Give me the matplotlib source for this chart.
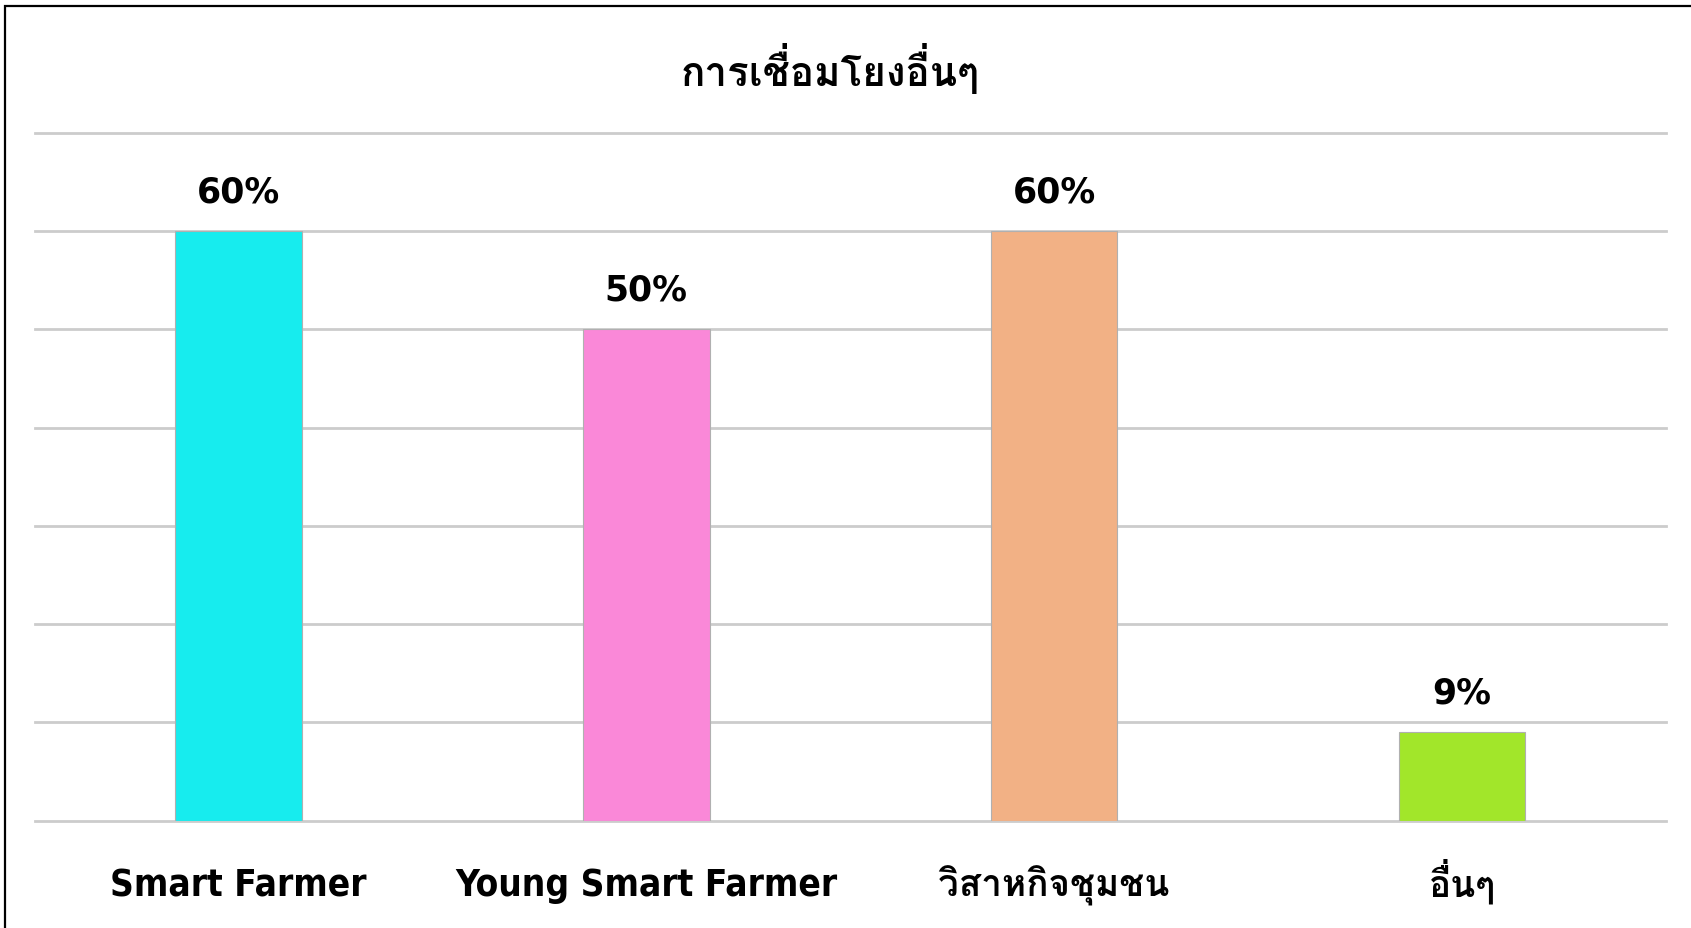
import matplotlib
matplotlib.use("Agg")
import matplotlib.pyplot as plt
from matplotlib.patches import Rectangle

categories = ["Smart Farmer", "Young Smart Farmer", "วิสาหกิจชุมชน", "อื่นๆ"]
values = [0.60, 0.50, 0.60, 0.09]
labels = ["60%", "50%", "60%", "9%"]
colors = ["#17ECEE", "#FA88D8", "#F2B185", "#A2E62A"]
title = "การเชื่อมโยงอื่นๆ"

W, H = 1691, 929
fig = plt.figure(figsize=(W / 100, H / 100), dpi=100)
fig.patch.set_facecolor("white")

# outer frame (left and top visible)
fig.patches.append(Rectangle((5 / W, -0.1), 1.2, 1 - 7 / H + 0.1, transform=fig.transFigure,
                             fill=False, edgecolor="black", linewidth=1.6, zorder=10))

ax = fig.add_axes([34.5 / W, 1 - 821.7 / H, (1666 - 34.5) / W, (821.7 - 133.7) / H])
x = list(range(len(categories)))
ax.bar(x, values, width=0.31, color=colors, edgecolor="#b0b0b0", linewidth=0.8, zorder=3)
ax.set_xlim(-0.5, 3.5)
ax.set_ylim(0, 0.7)
ax.set_yticks([i / 10 for i in range(8)])
ax.yaxis.grid(True, color="#cccccc", linewidth=2.0, zorder=0)
for gl in ax.get_ygridlines():
    gl.set_clip_on(False)
ax.set_axisbelow(True)
for s in ax.spines.values():
    s.set_visible(False)
ax.tick_params(axis="y", left=False, labelleft=False)
ax.tick_params(axis="x", bottom=False, pad=50)
ax.set_xticks(x)
ax.set_xticklabels(categories)
for t in ax.get_xticklabels():
    t.set_fontsize(26.5)
    t.set_fontweight("bold")
    t.set_fontstretch("condensed")
    t.set_verticalalignment("baseline")
    t.set_family(["DejaVu Sans", "Loma"])

for xi, v, lab in zip(x, values, labels):
    ax.annotate(lab, (xi, v), xytext=(0, 16.5), textcoords="offset points",
                ha="center", va="bottom", fontsize=25, fontweight="bold",
                family=["DejaVu Sans"], color="black")

fig.text(0.491, 1 - 86 / H, title, ha="center", va="baseline", fontsize=29,
         fontweight="bold", family=["Loma", "DejaVu Sans"])

fig.savefig("out.png", dpi=100)
